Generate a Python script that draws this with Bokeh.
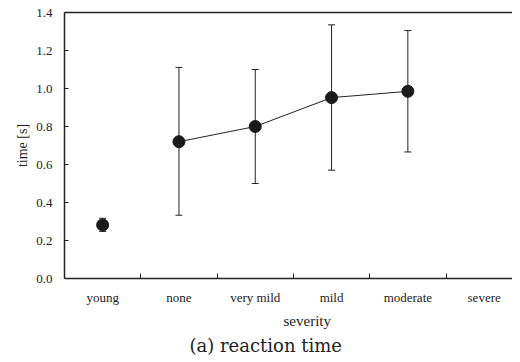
from bokeh.plotting import figure
from bokeh.models import (ColumnDataSource, Whisker, TeeHead, Range1d, FixedTicker,
                          LinearAxis, Title)
from bokeh.embed import file_html
from bokeh.resources import INLINE

categories = ["young", "none", "very mild", "mild", "moderate", "severe"]
means = [0.282, 0.72, 0.80, 0.952, 0.985]
lower = [0.248, 0.333, 0.50, 0.57, 0.666]
upper = [0.317, 1.111, 1.10, 1.335, 1.305]
y_ticks = [0.0, 0.2, 0.4, 0.6, 0.8, 1.0, 1.2, 1.4]

xs = [i + 0.5 for i in range(len(means))]
src = ColumnDataSource(dict(x=xs, y=means, lower=lower, upper=upper))
line_src = ColumnDataSource(dict(x=xs[1:], y=means[1:]))

FONT = "Liberation Serif"
INK = "#222222"

p = figure(width=512, height=356, output_backend="svg", toolbar_location=None,
           x_range=Range1d(0, 448 / 76.3), y_range=Range1d(0, 1.4),
           min_border_left=64, min_border_right=0, min_border_top=12, min_border_bottom=0,
           x_axis_location=None, y_axis_location=None)
p.outline_line_color = None
p.grid.visible = False
p.background_fill_color = "white"
p.border_fill_color = "white"

# y axis
yax = LinearAxis(ticker=FixedTicker(ticks=y_ticks), axis_label="time [s]")
yax.major_label_overrides = {t: f"{t:.1f}" for t in y_ticks}
yax.major_tick_in = 4
yax.major_tick_out = 0
yax.minor_tick_line_color = None
yax.major_label_standoff = 12
yax.major_label_text_font = FONT
yax.major_label_text_font_size = "13px"
yax.major_label_text_color = INK
yax.axis_label_text_font = FONT
yax.axis_label_text_font_size = "14px"
yax.axis_label_text_font_style = "normal"
yax.axis_label_text_color = INK
yax.axis_label_standoff = 3
yax.axis_line_width = 1.5
yax.axis_line_color = INK
yax.major_tick_line_color = INK
p.add_layout(yax, "left")

# x axis: labels at category centres, ticks at category boundaries
centers = [i + 0.5 for i in range(len(categories))]
bounds = [i for i in range(1, len(categories))]
xax = LinearAxis(ticker=FixedTicker(ticks=centers, minor_ticks=bounds))
xax.major_label_overrides = {c: n for c, n in zip(centers, categories)}
xax.major_tick_in = 0
xax.major_tick_out = 0
xax.minor_tick_in = 5
xax.minor_tick_out = 0
xax.minor_tick_line_color = INK
xax.major_label_standoff = 11
xax.major_label_text_font = FONT
xax.major_label_text_font_size = "13px"
xax.major_label_text_color = INK
xax.axis_line_width = 1.5
xax.axis_line_color = INK
p.add_layout(xax, "below")

# top frame line
top = LinearAxis(ticker=FixedTicker(ticks=[]))
top.major_tick_in = 0
top.major_tick_out = 0
top.minor_tick_line_color = None
top.major_label_text_font_size = "0px"
top.major_label_standoff = 0
top.axis_line_width = 1.5
top.axis_line_color = INK
p.add_layout(top, "above")

p.add_layout(Title(text="severity", align="left", text_font=FONT, offset=219,
                   text_font_size="15px", text_font_style="normal", text_color=INK,
                   standoff=6), "below")
p.add_layout(Title(text="(a) reaction time", align="left", text_font="DejaVu Serif",
                   offset=125, text_font_size="18px", text_font_style="normal",
                   text_color=INK, standoff=2), "below")

p.line("x", "y", source=line_src, line_color=INK, line_width=1)
w = Whisker(base="x", lower="lower", upper="upper", source=src, line_color=INK,
            line_width=1,
            upper_head=TeeHead(size=7, line_color=INK, line_width=1),
            lower_head=TeeHead(size=7, line_color=INK, line_width=1))
p.add_layout(w)
p.scatter("x", "y", source=src, size=12, fill_color="#1a1a1a", line_color="#1a1a1a")

open("out.html", "w").write(file_html(p, INLINE))
